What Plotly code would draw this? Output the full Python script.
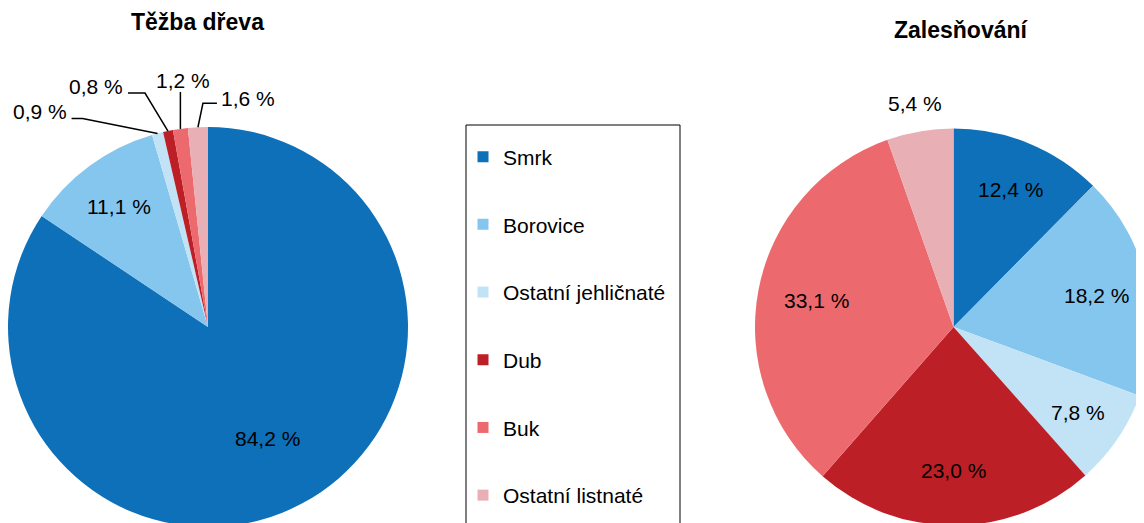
import math
import plotly.graph_objects as go

W, H = 1144, 523
PAGE = 8  # the page puts the figure 8 px in from the top-left corner

categories = ["Smrk", "Borovice", "Ostatní jehličnaté", "Dub", "Buk", "Ostatní listnaté"]
tezba = [84.2, 11.1, 0.9, 0.8, 1.2, 1.6]
zalesnovani = [12.4, 18.2, 7.8, 23.0, 33.1, 5.4]
colors = ["#0e70b8", "#85c6ee", "#c1e3f5", "#bc1f26", "#ec6a6e", "#e8b0b5"]

FONT = "Liberation Sans, Arial, Helvetica, sans-serif"
FS = 21


def px(x, y):
    # screen pixel -> paper coordinates
    return (x - PAGE) / W, 1 - (y - PAGE) / H


def dom(x0, x1, y0, y1):
    a0, b1 = px(x0, y0)
    a1, b0 = px(x1, y1)
    return dict(x=[max(a0, 0), min(a1, 1)], y=[max(b0, 0), min(b1, 1)])


left_dom = dom(8, 408, 127, 527)
right_dom = dom(755, 1152, 127, 527)

# distance of each label from the pie centre, as a share of the radius
# (None = label drawn with a leader line)
left_label_r = [0.63, 0.75, None, None, None, None]
right_label_r = [0.75, 0.74, 0.76, 0.725, 0.705, 1.14]


def fmt(v):
    return f"{v:.1f} %".replace(".", ",")


def geometry(d):
    cx = (d["x"][0] + d["x"][1]) / 2 * W + PAGE
    cy = (1 - (d["y"][0] + d["y"][1]) / 2) * H + PAGE
    r = min((d["x"][1] - d["x"][0]) * W, (d["y"][1] - d["y"][0]) * H) / 2
    return cx, cy, r


def mid_angles(values):
    total = sum(values)
    out, cum = [], 0
    for v in values:
        out.append((cum + v / 2) / total * 2 * math.pi)
        cum += v
    return out


fig = go.Figure()

for values, d in [(tezba, left_dom), (zalesnovani, right_dom)]:
    fig.add_trace(go.Pie(
        labels=categories, values=values, sort=False, direction="clockwise", rotation=0,
        marker=dict(colors=colors, line=dict(width=0)),
        textinfo="none", domain=d, showlegend=False, hoverinfo="label+percent",
    ))

# legend entries
for name, color in zip(categories, colors):
    fig.add_trace(go.Scatter(
        x=[None], y=[None], mode="markers", name=name, legendgroup=name,
        marker=dict(symbol="square", size=11, color=color),
    ))


def label(x, y, text, size=FS, bold=False):
    ax_, ay_ = px(x, y)
    fig.add_annotation(x=ax_, y=ay_, xref="paper", yref="paper",
                       text=f"<b>{text}</b>" if bold else text,
                       showarrow=False, xanchor="center", yanchor="middle",
                       font=dict(family=FONT, size=size, color="#000000"))


# labels inside / next to the slices
for values, d, factors in [(tezba, left_dom, left_label_r),
                           (zalesnovani, right_dom, right_label_r)]:
    cx, cy, r = geometry(d)
    for v, a, k in zip(values, mid_angles(values), factors):
        if k is None:
            continue
        label(cx + k * r * math.sin(a), cy - k * r * math.cos(a), fmt(v))

# leader lines for the small slices of the left pie
# (elbow dx, dy), (end dx, dy), (text dx, dy) relative to slice edge
offsets = {
    2: ((-75, -15), (-86, -15), (-118, -22)),
    3: ((-23, -38), (-40, -38), (-72, -45)),
    4: ((0, -37), (0, -37), (3, -48)),
    5: ((5, -24), (19, -24), (50, -29)),
}
cx, cy, r = geometry(left_dom)
for i, (v, a) in enumerate(zip(tezba, mid_angles(tezba))):
    if i not in offsets:
        continue
    ex, ey = cx + r * math.sin(a), cy - r * math.cos(a)
    (bx, by), (tx, ty), (lx, ly) = offsets[i]
    p0, p1, p2 = px(ex, ey), px(ex + bx, ey + by), px(ex + tx, ey + ty)
    fig.add_shape(type="path", xref="paper", yref="paper",
                  path=f"M {p0[0]},{p0[1]} L {p1[0]},{p1[1]} L {p2[0]},{p2[1]}",
                  line=dict(color="#000000", width=1.5))
    label(ex + lx, ey + ly, fmt(v))

# titles
label(197, 22, "Těžba dřeva", size=23, bold=True)
label(961, 30, "Zalesňování", size=23, bold=True)

# legend frame
f0 = px(466, 125)
f1 = px(680, 560)
fig.add_shape(type="rect", xref="paper", yref="paper",
              x0=f0[0], x1=f1[0], y0=f1[1], y1=f0[1],
              line=dict(color="#000000", width=1))

lg = px(463, 136.5)
fig.update_layout(
    width=W, height=H,
    margin=dict(l=0, r=0, t=0, b=0, autoexpand=False),
    paper_bgcolor="white", plot_bgcolor="white",
    font=dict(family=FONT, size=FS, color="#000000"),
    showlegend=True,
    legend=dict(x=lg[0], y=lg[1], xanchor="left", yanchor="top",
                tracegroupgap=37.4, bgcolor="rgba(0,0,0,0)", borderwidth=0,
                font=dict(family=FONT, size=FS, color="#000000")),
    xaxis=dict(visible=False), yaxis=dict(visible=False),
)

fig.write_html("out.html")
